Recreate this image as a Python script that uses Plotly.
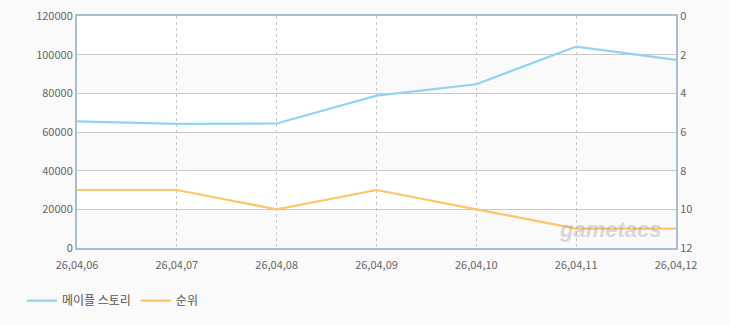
import plotly.graph_objects as go

dates = ["26,04,06", "26,04,07", "26,04,08", "26,04,09", "26,04,10", "26,04,11", "26,04,12"]
users = [65500, 64200, 64400, 78800, 84700, 104200, 97300]
rank = [9, 9, 10, 9, 10, 11, 11]

band_ranges = [(0, 20000), (40000, 60000), (80000, 100000)]

fig = go.Figure()
fig.add_trace(go.Scatter(x=dates, y=users, name="메이플 스토리", mode="lines",
                         line=dict(color="#93d3f2", width=2.2), yaxis="y"))
fig.add_trace(go.Scatter(x=dates, y=rank, name="순위", mode="lines",
                         line=dict(color="#ffc466", width=2.2), yaxis="y2"))

shapes = []
for lo, hi in band_ranges:
    shapes.append(dict(type="rect", xref="paper", yref="y", x0=0, x1=1, y0=lo, y1=hi,
                       fillcolor="#fafafa", line=dict(width=0), layer="below"))

fig.update_layout(
    width=730, height=325,
    margin=dict(l=77, r=54, t=16, b=77, autoexpand=False),
    paper_bgcolor="#fafafa",
    plot_bgcolor="#ffffff",
    font=dict(family="Noto Sans CJK KR, DejaVu Sans, sans-serif", size=11, color="#666666"),
    shapes=shapes,
    showlegend=True,
    legend=dict(orientation="h", x=0.03, xref="container", y=0.075, yref="container",
                yanchor="middle", xanchor="left",
                font=dict(size=12, color="#555555"), bgcolor="rgba(0,0,0,0)",
                tracegroupgap=0),
    xaxis=dict(type="category", categoryorder="array", categoryarray=dates,
               range=[0, 6], showgrid=True, gridcolor="#c8c8c8", griddash="3px,3px", gridwidth=1,
               showline=True, linecolor="#a9bdd2", linewidth=2, mirror=True,
               ticks="", ticklabelstandoff=6,
               tickfont=dict(size=11, color="#666666"), fixedrange=True),
    yaxis=dict(range=[0, 120000], dtick=20000, showgrid=True, gridcolor="#c8c8c8", gridwidth=1,
               showline=True, linecolor="#a9bdd2", linewidth=2, zeroline=False,
               ticks="", tickformat="d", tickfont=dict(size=11, color="#666666")),
    yaxis2=dict(range=[12, 0], dtick=2, overlaying="y", side="right", showgrid=False,
                showline=True, linecolor="#a9bdd2", linewidth=2, zeroline=False,
                ticks="", tickfont=dict(size=11, color="#666666")),
    annotations=[dict(text="<b><i>gametacs</i></b>", xref="paper", yref="paper",
                      x=0.98, y=0.08, xanchor="right", yanchor="middle", showarrow=False,
                      font=dict(size=22, color="rgba(160,160,160,0.4)", family="Liberation Sans"))],
)

fig.write_html("out.html")
